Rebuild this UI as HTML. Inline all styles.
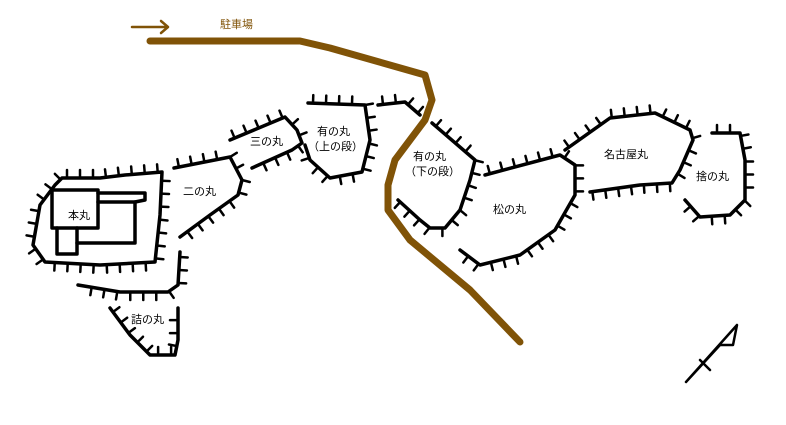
<!DOCTYPE html>
<html><head><meta charset="utf-8"><style>
html,body{margin:0;padding:0;background:#fff;}
svg{display:block}
text{font-family:"Liberation Sans","Noto Sans CJK JP",sans-serif;font-size:11px;fill:#000}
</style></head><body>
<svg id="s" width="786" height="425" viewBox="0 0 786 425" xmlns="http://www.w3.org/2000/svg">
<g id="walls" fill="none" stroke="#000" stroke-width="3.5" stroke-linecap="round" stroke-linejoin="round">
<path id="p1" d="M62,178 L100,178 L125,175 L162,172 L160,215 L155,262 L100,265 L45,262 L33,245 L40,205 L55,185 Z"/>
<path id="p2" d="M180,252 L178,285 L168,292 L120,292 L78,285"/>
<path id="p3" d="M174,168 L230,157 L242,180 L238,195 L210,215 L180,237"/>
<path id="p4" d="M230,140 L285,117 L297,130 L302,143 L292,150 L252,168"/>
<path id="p5" d="M308,103 L365,105 L370,140 L362,172 L330,178 L310,160 L305,145"/>
<path id="p6" d="M378,105 L405,102 L420,115"/>
<path id="p7" d="M432,123 L475,160 L470,180 L460,210 L445,228 L430,228 L420,220 L398,200"/>
<path id="p8" d="M485,175 L560,155 L575,165 L575,195 L555,230 L520,255 L480,265 L460,250"/>
<path id="p9" d="M565,150 L610,118 L655,113 L690,130 L693,140 L680,170 L672,183 L640,185 L590,192"/>
<path id="p10" d="M712,133 L740,133 L745,160 L745,200 L730,215 L700,217 L685,200"/>
<path id="p11" d="M110,308 L130,335 L150,355 L175,355 L178,340 L178,308"/>
<path d="M52,190 L98,190 L98,228 L52,228 Z"/>
<path d="M98,202 L135,202 L135,243 L77,243"/>
<path d="M98,193 L145,193 L145,200 L135,202"/>
<path d="M57,228 L57,254 L77,254 L77,228"/>
</g>
<g id="ticks" stroke="#000" stroke-width="2.5" stroke-linecap="round"></g>
<g fill="none" stroke="#805307" stroke-linecap="round" stroke-linejoin="round">
<path stroke-width="7" d="M150,41 L300,41 L330,48 L425,75 L432,100 L425,120 L410,140 L395,160 L388,185 L388,210 L410,240 L470,290 L520,342"/>
<path stroke-width="2.5" d="M132,27 L168,27 M161,21 L168,27 L161,33"/>
</g>
<text x="220" y="28" style="fill:#805307">駐車場</text>
<g fill="none" stroke="#000" stroke-width="2.5" stroke-linecap="round" stroke-linejoin="round">
<path d="M686,382 L737,325 L733,345 L720,345 Z M700,360 L710,370"/>
</g>
<text x="68" y="219">本丸</text>
<text x="183" y="195">二の丸</text>
<text x="250" y="145">三の丸</text>
<text x="317" y="135">有の丸</text>
<text x="308" y="150">（上の段）</text>
<text x="413" y="160">有の丸</text>
<text x="405" y="175">（下の段）</text>
<text x="493" y="213">松の丸</text>
<text x="604" y="158">名古屋丸</text>
<text x="696" y="180">捨の丸</text>
<text x="131" y="323">詰の丸</text>
</svg>
<script>
var cfg={p1:-1,p2:-1,p3:-1,p4:-1,p5:-1,p6:-1,p7:-1,p8:-1,p9:-1,p10:-1,p11:-1};
var g=document.getElementById('ticks');
for(var id in cfg){var p=document.getElementById(id);var L=p.getTotalLength();var sgn=cfg[id];
for(var d=5;d<L-2;d+=13){var a=p.getPointAtLength(d),b=p.getPointAtLength(Math.min(L,d+1));
var dx=b.x-a.x,dy=b.y-a.y,n=Math.hypot(dx,dy)||1;var nx=-dy/n*sgn,ny=dx/n*sgn;
var l=document.createElementNS('http://www.w3.org/2000/svg','line');
l.setAttribute('x1',a.x);l.setAttribute('y1',a.y);l.setAttribute('x2',a.x+nx*8);l.setAttribute('y2',a.y+ny*8);g.appendChild(l);}}
</script>
</body></html>
